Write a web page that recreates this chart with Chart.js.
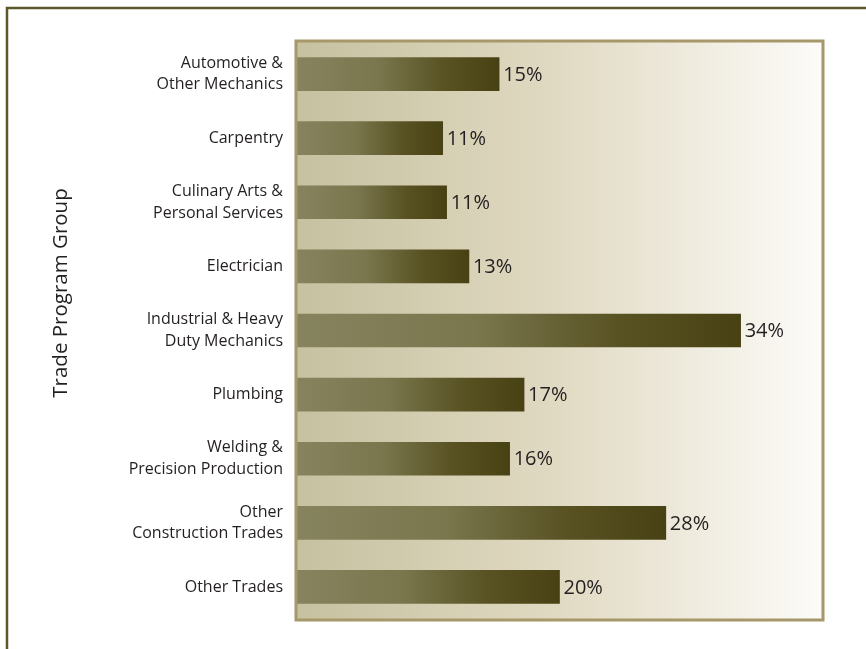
<!DOCTYPE html>
<html>
<head>
<meta charset="utf-8">
<script src="https://cdn.jsdelivr.net/npm/chart.js@4/dist/chart.umd.min.js"></script>
<style>
  html, body { margin: 0; padding: 0; background: #ffffff; }
  #wrap { width: 866px; height: 649px; position: relative; }
</style>
</head>
<body>
<div id="wrap"><canvas id="myChart"></canvas></div>
<script>
// categories (multi-line labels) and shares of trade program completers, in %
const categories = [
  ['Automotive &', 'Other Mechanics'],
  'Carpentry',
  ['Culinary Arts &', 'Personal Services'],
  'Electrician',
  ['Industrial & Heavy', 'Duty Mechanics'],
  'Plumbing',
  ['Welding &', 'Precision Production'],
  ['Other', 'Construction Trades'],
  'Other Trades'
];
const shares = [15.4, 11.1, 11.4, 13.1, 33.8, 17.3, 16.2, 28.1, 20.0];
const valueLabels = ['15%', '11%', '11%', '13%', '34%', '17%', '16%', '28%', '20%'];
const axisTitle = 'Trade Program Group';
const xMax = 40;

const FONT = "'Open Sans', 'Noto Sans', sans-serif";

// background panel + frame lines
const panelPlugin = {
  id: 'panel',
  beforeDatasetsDraw(chart) {
    const {ctx, chartArea: a} = chart;
    ctx.save();
    const g = ctx.createLinearGradient(a.left, 0, a.right, 0);
    g.addColorStop(0, '#c6c1a0');
    g.addColorStop(0.5, '#e1dac3');
    g.addColorStop(1, '#fcfbf8');
    ctx.fillStyle = g;
    ctx.fillRect(a.left, a.top, a.right - a.left, a.bottom - a.top);
    ctx.restore();
  },
  afterDatasetsDraw(chart) {
    const {ctx, chartArea: a} = chart;
    ctx.save();
    ctx.strokeStyle = '#a6986a';
    ctx.lineWidth = 3;
    ctx.strokeRect(a.left - 1, a.top - 1, a.right - a.left + 2, a.bottom - a.top + 2);
    // outer frame (top + left)
    ctx.strokeStyle = '#5c5829';
    ctx.lineWidth = 2.5;
    ctx.beginPath();
    ctx.moveTo(866, 8);
    ctx.lineTo(7, 8);
    ctx.lineTo(7, 649);
    ctx.stroke();
    // value labels
    ctx.fillStyle = '#231f20';
    ctx.font = '20px ' + FONT;
    ctx.textBaseline = 'middle';
    chart.getDatasetMeta(0).data.forEach((bar, i) => {
      ctx.fillText(valueLabels[i], bar.x + 4, bar.y + 1);
    });
    // vertical axis title
    ctx.translate(61, 293);
    ctx.rotate(-Math.PI / 2);
    ctx.textAlign = 'center';
    ctx.font = '20.5px ' + FONT;
    ctx.fillText(axisTitle, 0, 0);
    ctx.restore();
  }
};

const ctx = document.getElementById('myChart');
new Chart(ctx, {
  type: 'bar',
  data: {
    labels: categories,
    datasets: [{
      data: shares,
      barThickness: 33,
      backgroundColor: (c) => {
        const chart = c.chart;
        const xs = chart.scales.x;
        if (!xs || c.dataIndex === undefined) return '#6b683c';
        const x0 = xs.getPixelForValue(0);
        const x1 = xs.getPixelForValue(shares[c.dataIndex]);
        if (!isFinite(x0) || !isFinite(x1) || x1 <= x0) return '#6b683c';
        const g = chart.ctx.createLinearGradient(x0, 0, x1, 0);
        g.addColorStop(0, '#86835f');
        g.addColorStop(0.4, '#7a774e');
        g.addColorStop(0.72, '#595324');
        g.addColorStop(1, '#474113');
        return g;
      }
    }]
  },
  options: {
    indexAxis: 'y',
    responsive: true,
    maintainAspectRatio: false,
    animation: false,
    layout: { padding: { top: 42, right: 44, bottom: 30, left: 0 } },
    plugins: {
      legend: { display: false },
      tooltip: { enabled: false }
    },
    scales: {
      x: {
        display: false,
        min: 0,
        max: xMax
      },
      y: {
        afterFit(scale) {
          scale.width = 297;
          scale.paddingTop = 0;
          scale.paddingBottom = 0;
        },
        grid: { display: false, drawTicks: false },
        border: { display: false },
        ticks: {
          padding: 14,
          color: '#231f20',
          font: { family: FONT, size: 16, lineHeight: 1.35 }
        }
      }
    }
  },
  plugins: [panelPlugin]
});
</script>
</body>
</html>
